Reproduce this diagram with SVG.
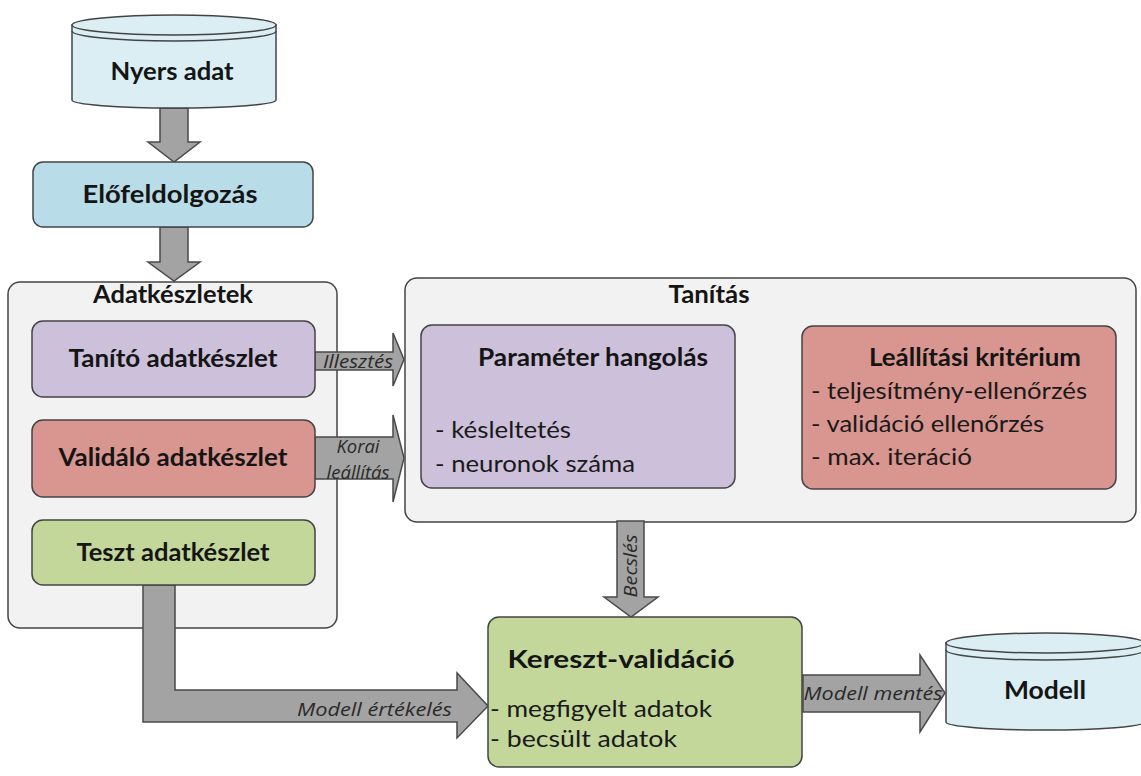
<svg xmlns="http://www.w3.org/2000/svg" width="1141" height="776" viewBox="0 0 1141 776">
  <style>
    .box { stroke: #444; stroke-width: 1.5; }
    .cont { fill: #f2f2f2; stroke: #444; stroke-width: 1.5; }
    .blue { fill: #b9dde8; }
    .cyl { fill: #daeef3; stroke: #444; stroke-width: 1.5; }
    .purple { fill: #ccc0da; }
    .red { fill: #d9958f; }
    .green { fill: #c4d79b; }
    .arrow { fill: #a3a3a3; stroke: #4a4a4a; stroke-width: 1.5; stroke-linejoin: miter; }
    .title { font-family: Lato, "Liberation Sans", sans-serif; font-weight: bold; font-size: 24px; fill: #151515; }
    .item { font-family: Lato, "Liberation Sans", sans-serif; font-size: 23px; fill: #1a1a1a; }
    .lbl { font-family: "Open Sans", "Liberation Sans", sans-serif; font-style: italic; font-size: 19px; fill: #2a2a2a; }
    .mid { text-anchor: middle; }
  </style>

  <rect width="1141" height="776" fill="#ffffff"/>

  <!-- containers -->
  <g id="adatkeszletek">
    <rect class="cont" x="8" y="282" width="329" height="346" rx="12"/>
    <text class="title mid" x="173" y="303" textLength="160" lengthAdjust="spacingAndGlyphs">Adatkészletek</text>
  </g>
  <g id="tanitas">
    <rect class="cont" x="405" y="278" width="731" height="244" rx="12"/>
    <text class="title mid" x="709" y="303" textLength="81" lengthAdjust="spacingAndGlyphs">Tanítás</text>
  </g>

  <!-- connectors -->
  <g id="connectors">
    <path class="arrow" d="M160,108 V142 H148 L174,162 L200,142 H188 V108 Z"/>
    <path class="arrow" d="M160,227 V262 H148 L174,281 L200,262 H188 V227 Z"/>
    <path class="arrow" d="M315,352 H393 V333 L404,359.5 L393,386 V370 H315 Z"/>
    <text class="lbl" x="358" y="368" text-anchor="middle" font-size="18" textLength="70" lengthAdjust="spacingAndGlyphs">Illesztés</text>
    <path class="arrow" d="M315,437 H393 V415 L404,458 L393,502 V479 H315 Z"/>
    <text class="lbl" x="358" y="453" text-anchor="middle" font-size="16" fill="#444" textLength="43" lengthAdjust="spacingAndGlyphs">Korai</text>
    <text class="lbl" x="358" y="479" text-anchor="middle" font-size="16" fill="#444" textLength="63" lengthAdjust="spacingAndGlyphs">leállítás</text>
    <path class="arrow" d="M617,521 V597 H604 L631,617 L658,597 H644 V521 Z"/>
    <text class="lbl" transform="translate(637,566) rotate(-90)" text-anchor="middle" font-size="18" textLength="63" lengthAdjust="spacingAndGlyphs">Becslés</text>
    <path class="arrow" d="M143,585 V722 H457 V738 L488,706 L457,673 V690 H175 V585 Z"/>
    <text class="lbl" x="452" y="716" text-anchor="end" font-size="20" textLength="155" lengthAdjust="spacingAndGlyphs">Modell értékelés</text>
    <path class="arrow" d="M803,675 H920 V655 L945,693 L920,732 V712 H803 Z"/>
    <text class="lbl" x="873" y="700" text-anchor="middle" font-size="20" textLength="139" lengthAdjust="spacingAndGlyphs">Modell mentés</text>
  </g>

  <!-- nodes -->
  <g id="nyers-adat">
    <path class="cyl" d="M72,25 V100 A102,8 0 0 0 276,100 V25 Z"/>
    <ellipse class="cyl" cx="174" cy="25" rx="102" ry="10"/>
    <path d="M72,31 A102,10 0 0 0 276,31" fill="none" stroke="#444" stroke-width="1.5"/>
    <text class="title mid" x="172" y="80" textLength="123" lengthAdjust="spacingAndGlyphs">Nyers adat</text>
  </g>

  <g id="elofeldolgozas">
    <rect class="box blue" x="33" y="162" width="280" height="65" rx="10"/>
    <text class="title mid" x="170" y="203" textLength="175" lengthAdjust="spacingAndGlyphs">Előfeldolgozás</text>
  </g>

  <g id="tanito">
    <rect class="box purple" x="32" y="321" width="283" height="76" rx="11"/>
    <text class="title mid" x="173" y="367" textLength="209" lengthAdjust="spacingAndGlyphs">Tanító adatkészlet</text>
  </g>
  <g id="validalo">
    <rect class="box red" x="32" y="420" width="283" height="77" rx="11"/>
    <text class="title mid" x="173" y="466" textLength="229" lengthAdjust="spacingAndGlyphs">Validáló adatkészlet</text>
  </g>
  <g id="teszt">
    <rect class="box green" x="32" y="520" width="283" height="65" rx="11"/>
    <text class="title mid" x="173" y="561" textLength="193" lengthAdjust="spacingAndGlyphs">Teszt adatkészlet</text>
  </g>

  <g id="parameter">
    <rect class="box purple" x="421" y="325" width="314" height="163" rx="11"/>
    <text class="title mid" x="593" y="366" textLength="230" lengthAdjust="spacingAndGlyphs">Paraméter hangolás</text>
    <text class="item" x="435" y="438" textLength="136" lengthAdjust="spacingAndGlyphs">- késleltetés</text>
    <text class="item" x="435" y="472" textLength="200" lengthAdjust="spacingAndGlyphs">- neuronok száma</text>
  </g>

  <g id="leallitas">
    <rect class="box red" x="802" y="326" width="314" height="163" rx="11"/>
    <text class="title mid" x="975" y="366" textLength="212" lengthAdjust="spacingAndGlyphs">Leállítási kritérium</text>
    <text class="item" x="811" y="399" textLength="276" lengthAdjust="spacingAndGlyphs">- teljesítmény-ellenőrzés</text>
    <text class="item" x="811" y="432" textLength="233" lengthAdjust="spacingAndGlyphs">- validáció ellenőrzés</text>
    <text class="item" x="811" y="465" textLength="161" lengthAdjust="spacingAndGlyphs">- max. iteráció</text>
  </g>

  <g id="kereszt">
    <rect class="box green" x="488" y="617" width="314" height="150" rx="11"/>
    <text class="title mid" x="621" y="668" textLength="227" lengthAdjust="spacingAndGlyphs">Kereszt-validáció</text>
    <text class="item" x="490" y="717" textLength="222" lengthAdjust="spacingAndGlyphs">- megfigyelt adatok</text>
    <text class="item" x="490" y="747" textLength="187" lengthAdjust="spacingAndGlyphs">- becsült adatok</text>
  </g>

  <g id="modell">
    <path class="cyl" d="M946,643 V722 A99,8 0 0 0 1144,722 V643 Z"/>
    <ellipse class="cyl" cx="1045" cy="643" rx="99" ry="10"/>
    <path d="M946,650 A99,10 0 0 0 1144,650" fill="none" stroke="#444" stroke-width="1.5"/>
    <text class="title mid" x="1045" y="699" textLength="82" lengthAdjust="spacingAndGlyphs">Modell</text>
  </g>
</svg>
